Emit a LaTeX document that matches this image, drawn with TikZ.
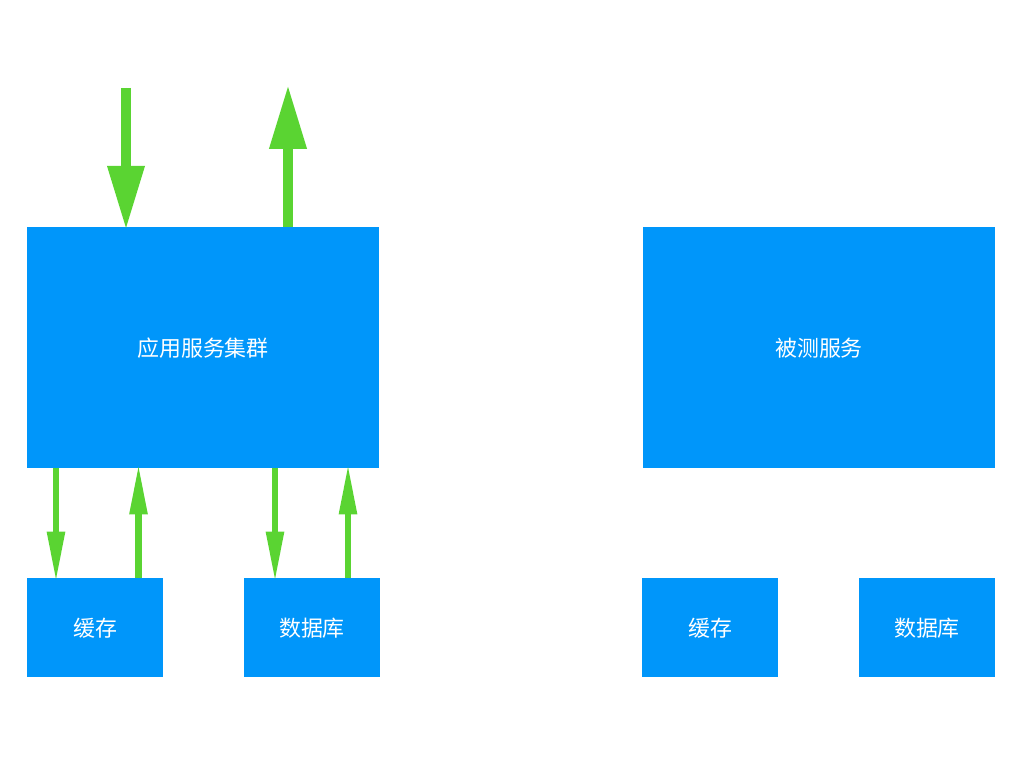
\documentclass[tikz,border=0pt]{standalone}
\usepackage{fontspec}
\newfontfamily\cjk{Noto Sans CJK SC}
\usetikzlibrary{arrows.meta}
\definecolor{boxblue}{RGB}{0,150,250}
\definecolor{flowgreen}{RGB}{90,212,50}

\begin{document}
\begin{tikzpicture}[x=0.025cm,y=-0.025cm,
        block/.style={fill=boxblue,text=white,font=\cjk\fontsize{15.6}{18}\selectfont,inner sep=0pt,text depth=0.5pt},
        bigblock/.style={block,minimum width=8.8cm,minimum height=6.025cm},
        smallblock/.style={block,minimum width=3.4cm,minimum height=2.475cm},
        bigflow/.style={draw=flowgreen,line width=7.1pt,-{Triangle[length=45.5pt,width=24.9pt]},fill=flowgreen,shorten >=-2.2pt},
        smallflow/.style={draw=flowgreen,line width=4.3pt,-{Triangle[length=35.6pt,width=12pt]},fill=flowgreen,shorten >=-2.8pt}]
        \useasboundingbox (0,0) rectangle (1024,768);
        \node[bigblock] (app) at (203,347.5) {应用服务集群};
        \node[bigblock] (svc) at (819,347.5) {被测服务};
        \node[smallblock] (cacheA) at (95,627.5) {缓存};
        \node[smallblock] (dbA) at (312,627.5) {数据库};
        \node[smallblock] (cacheB) at (710,627.5) {缓存};
        \node[smallblock] (dbB) at (927,627.5) {数据库};
        \coordinate (in) at (126,88);
        \coordinate (out) at (288,88);
        \draw[bigflow] (in) -- (in |- app.north);
        \draw[bigflow] (app.north -| out) -- (out);
        \draw[smallflow] (app.south -| 56,0) -- (56,0 |- cacheA.north);
        \draw[smallflow] (138.5,0 |- cacheA.north) -- (app.south -| 138.5,0);
        \draw[smallflow] (app.south -| 275,0) -- (275,0 |- dbA.north);
        \draw[smallflow] (348,0 |- dbA.north) -- (app.south -| 348,0);
    \end{tikzpicture}
\end{document}
